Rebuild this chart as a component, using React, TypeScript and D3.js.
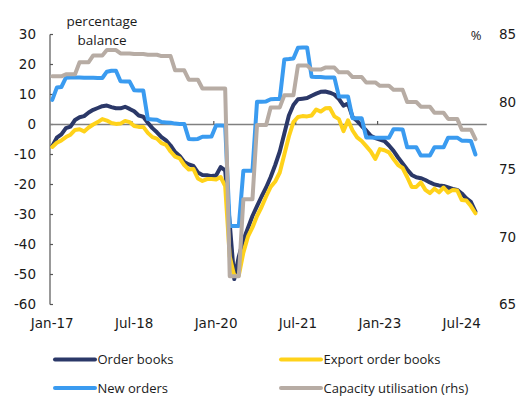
import React from "react";
import * as d3 from "d3";

// Monthly data Jan-17 .. Oct-24 (94 months)
const orderBooks = [
  -7.2, -4.4, -3.3, -1.2, -0.7, 1.5, 2.4, 2.8, 4.0, 4.9,
  5.5, 6.1, 6.3, 5.8, 5.4, 5.4, 5.9, 5.2, 4.4, 3.0,
  2.6, 0.6, -1.2, -2.6, -4.2, -5.3, -7.0, -9.2, -10.5, -12.5,
  -13.3, -13.8, -16.0, -16.8, -16.9, -17.2, -17.0, -14.2, -15.3, -33.0,
  -51.5, -44.0, -38.5, -34.5, -30.5, -27.2, -24.0, -21.0, -17.5, -13.5,
  -9.0, -3.0, 3.0, 6.5, 8.4, 8.6, 8.8, 9.6, 10.3, 10.9,
  11.0, 10.6, 10.0, 8.5, 6.3, 7.0, 2.5, 1.2, -0.5, -2.0,
  -3.8, -4.5, -5.0, -5.5, -7.0, -8.8, -11.0, -13.0, -15.0, -16.8,
  -17.6, -17.9, -18.5, -19.3, -20.0, -20.3, -20.5, -21.0, -21.5, -21.8,
  -23.0, -24.6, -25.8, -29.0,
];

const exportOrderBooks = [
  -7.5, -6.1, -5.3, -4.2, -3.4, -1.8, -1.6, -2.3, -1.0, 0.0,
  0.8, 1.8, 1.3, 0.5, 0.2, 0.3, 1.2, 0.8, -0.5, -0.8,
  -0.8, -2.8, -4.2, -4.7, -6.2, -6.8, -9.0, -10.7, -11.3, -13.5,
  -15.0, -14.8, -18.0, -18.8, -18.2, -18.2, -18.3, -17.5, -20.5, -44.0,
  -50.5, -50.3, -42.7, -37.4, -34.3, -30.5, -27.5, -24.0, -20.8, -19.0,
  -16.0, -10.0, -4.0, 0.8, 2.5, 2.8, 2.7, 3.0, 5.0, 4.3,
  5.4, 5.5, 2.7, 1.8, -2.2, 1.4, -2.0, -4.3, -5.5, -7.2,
  -9.0, -11.5, -8.2, -8.6, -9.3, -11.5, -13.5, -14.5, -17.5, -20.8,
  -20.8, -19.3, -21.8, -22.9, -21.4, -22.6, -21.0, -22.7, -21.8, -22.0,
  -25.2, -25.3, -27.2, -29.6,
];

const newOrders = [
  8.2, 12.3, 12.5, 15.6, 15.7, 15.7, 15.7, 15.6, 15.6, 15.6,
  15.5, 15.5, 17.6, 17.9, 17.9, 14.4, 14.3, 14.3, 11.4, 11.3,
  11.3, 1.8, 1.7, 1.6, 0.8, 0.7, 0.6, 0.3, 0.2, 0.2,
  -4.8, -4.9, -4.8, -4.1, -4.1, -4.0, -0.3, -0.3, -0.4, -33.8,
  -33.8, -33.8, -15.4, -15.4, -15.4, 7.6, 7.6, 7.7, 8.4, 8.5,
  8.5, 21.7, 21.8, 22.0, 25.6, 25.7, 25.7, 15.9, 15.8, 15.8,
  15.7, 15.7, 15.7, 9.3, 9.3, 9.3, 2.1, 2.1, 2.1, -4.3,
  -4.3, -4.4, -4.4, -4.4, -4.4, -1.6, -1.6, -1.7, -7.6, -7.6,
  -7.6, -10.3, -10.3, -10.3, -7.6, -7.6, -7.6, -4.4, -4.4, -4.4,
  -5.4, -5.4, -5.5, -10.0,
];

const capacityUtilisation = [
  81.9, 81.9, 81.9, 82.05, 82.05, 82.05, 82.95, 82.95, 82.95, 83.45,
  83.45, 83.45, 83.85, 83.85, 83.85, 83.6, 83.6, 83.6, 83.55, 83.55,
  83.55, 83.5, 83.5, 83.5, 83.4, 83.4, 83.4, 82.35, 82.35, 82.35,
  81.65, 81.65, 81.65, 81.0, 81.0, 81.0, 81.0, 81.0, 81.0, 67.1,
  67.1, 67.1, 72.8, 72.8, 72.8, 78.3, 78.3, 78.3, 79.6, 79.6,
  79.6, 80.5, 80.5, 80.5, 82.7, 82.7, 82.7, 82.4, 82.4, 82.4,
  82.55, 82.55, 82.55, 82.2, 82.2, 82.2, 81.85, 81.85, 81.85, 81.45,
  81.45, 81.45, 81.2, 81.2, 81.2, 80.9, 80.9, 80.9, 80.0, 80.0,
  80.0, 79.65, 79.65, 79.65, 79.2, 79.2, 79.2, 78.75, 78.75, 78.75,
  77.95, 77.95, 77.95, 77.25,
];

const monthCount = 96; // Jan-17 .. Dec-24 categories
const xTickMonths = [0, 18, 36, 54, 72, 90];
const xTickLabels = ["Jan-17", "Jul-18", "Jan-20", "Jul-21", "Jan-23", "Jul-24"];
const leftTicks = [30, 20, 10, 0, -10, -20, -30, -40, -50, -60];
const rightTicks = [85, 80, 75, 70, 65];

const seriesNames = ["Order books", "Export order books", "New orders", "Capacity utilisation (rhs)"];
const seriesColors = ["#2b3868", "#ffd21a", "#3a9bf0", "#b7aca4"];

export default function App() {
  const W = 518, H = 406;
  const x = d3.scaleBand<number>().domain(d3.range(monthCount)).range([50, 486.8]).padding(0);
  const bw = x.bandwidth();
  const cx = (i: number) => (x(i) as number) + bw / 2;
  const yL = d3.scaleLinear().domain([-60, 30]).range([304.5, 34.5]);
  const yR = d3.scaleLinear().domain([65, 85]).range([304.5, 34.5]);

  const lineL = d3.line<number>().x((_, i) => cx(i)).y((d) => yL(d));
  const lineR = d3.line<number>().x((_, i) => cx(i)).y((d) => yR(d));

  const paths = [
    { d: lineL(orderBooks), c: seriesColors[0] },
    { d: lineL(exportOrderBooks), c: seriesColors[1] },
    { d: lineL(newOrders), c: seriesColors[2] },
    { d: lineR(capacityUtilisation), c: seriesColors[3] },
  ];

  const axisFont = "'DejaVu Sans', sans-serif";
  const textFont = "'Open Sans', sans-serif";
  const textColor = "#1a1a1a";

  const legendItems = [
    { name: seriesNames[0], color: seriesColors[0], lx: 55, ly: 359.5 },
    { name: seriesNames[1], color: seriesColors[1], lx: 281, ly: 359.5 },
    { name: seriesNames[2], color: seriesColors[2], lx: 55, ly: 388 },
    { name: seriesNames[3], color: seriesColors[3], lx: 281, ly: 388 },
  ];

  return (
    <svg
      width={W}
      height={H}
      style={{ position: "absolute", left: 0, top: 0, background: "#fff" }}
    >
      {/* title */}
      <text x={102} y={26} textAnchor="middle" fontFamily={textFont} fontSize={13.5} fill={textColor}>
        percentage
      </text>
      <text x={102} y={45} textAnchor="middle" fontFamily={textFont} fontSize={13.5} fill={textColor}>
        balance
      </text>
      <text x={476} y={40} textAnchor="middle" fontFamily={textFont} fontSize={13} fill={textColor}>
        %
      </text>

      {/* left axis */}
      <line x1={50} x2={50} y1={yL(30)} y2={yL(-60)} stroke="#555" strokeWidth={1.2} />
      {leftTicks.map((t) => (
        <g key={"l" + t}>
          <line x1={50} x2={53} y1={yL(t)} y2={yL(t)} stroke="#555" strokeWidth={1.2} />
          <text
            x={36}
            y={yL(t)}
            dy="0.36em"
            textAnchor="end"
            fontFamily={axisFont}
            fontSize={13.5}
            fill={textColor}
          >
            {t}
          </text>
        </g>
      ))}

      {/* right axis labels */}
      {rightTicks.map((t) => (
        <text
          key={"r" + t}
          x={499}
          y={yR(t)}
          dy="0.36em"
          textAnchor="start"
          fontFamily={axisFont}
          fontSize={13.5}
          fill={textColor}
        >
          {t}
        </text>
      ))}

      {/* zero line with x ticks */}
      <line x1={50} x2={486.8} y1={yL(0)} y2={yL(0)} stroke="#808080" strokeWidth={1.5} />
      {xTickMonths.slice(1).map((m) => (
        <line
          key={"xt" + m}
          x1={x(m) as number}
          x2={x(m) as number}
          y1={yL(0) - 3.5}
          y2={yL(0)}
          stroke="#555"
          strokeWidth={1.2}
        />
      ))}
      {xTickMonths.map((m, i) => (
        <text
          key={"xl" + m}
          x={cx(m)}
          y={328}
          textAnchor="middle"
          fontFamily={axisFont}
          fontSize={13.5}
          fill={textColor}
        >
          {xTickLabels[i]}
        </text>
      ))}

      {/* series */}
      {paths.map((p, i) => (
        <path
          key={"s" + i}
          d={p.d || ""}
          fill="none"
          stroke={p.c}
          strokeWidth={4}
          strokeLinejoin="round"
          strokeLinecap="round"
        />
      ))}

      {/* legend */}
      {legendItems.map((it) => (
        <g key={it.name}>
          <line
            x1={it.lx}
            x2={it.lx + 40}
            y1={it.ly}
            y2={it.ly}
            stroke={it.color}
            strokeWidth={4}
            strokeLinecap="round"
          />
          <text
            x={it.lx + 42.5}
            y={it.ly}
            dy="0.36em"
            fontFamily={textFont}
            fontSize={13}
            fill={textColor}
          >
            {it.name}
          </text>
        </g>
      ))}
    </svg>
  );
}
